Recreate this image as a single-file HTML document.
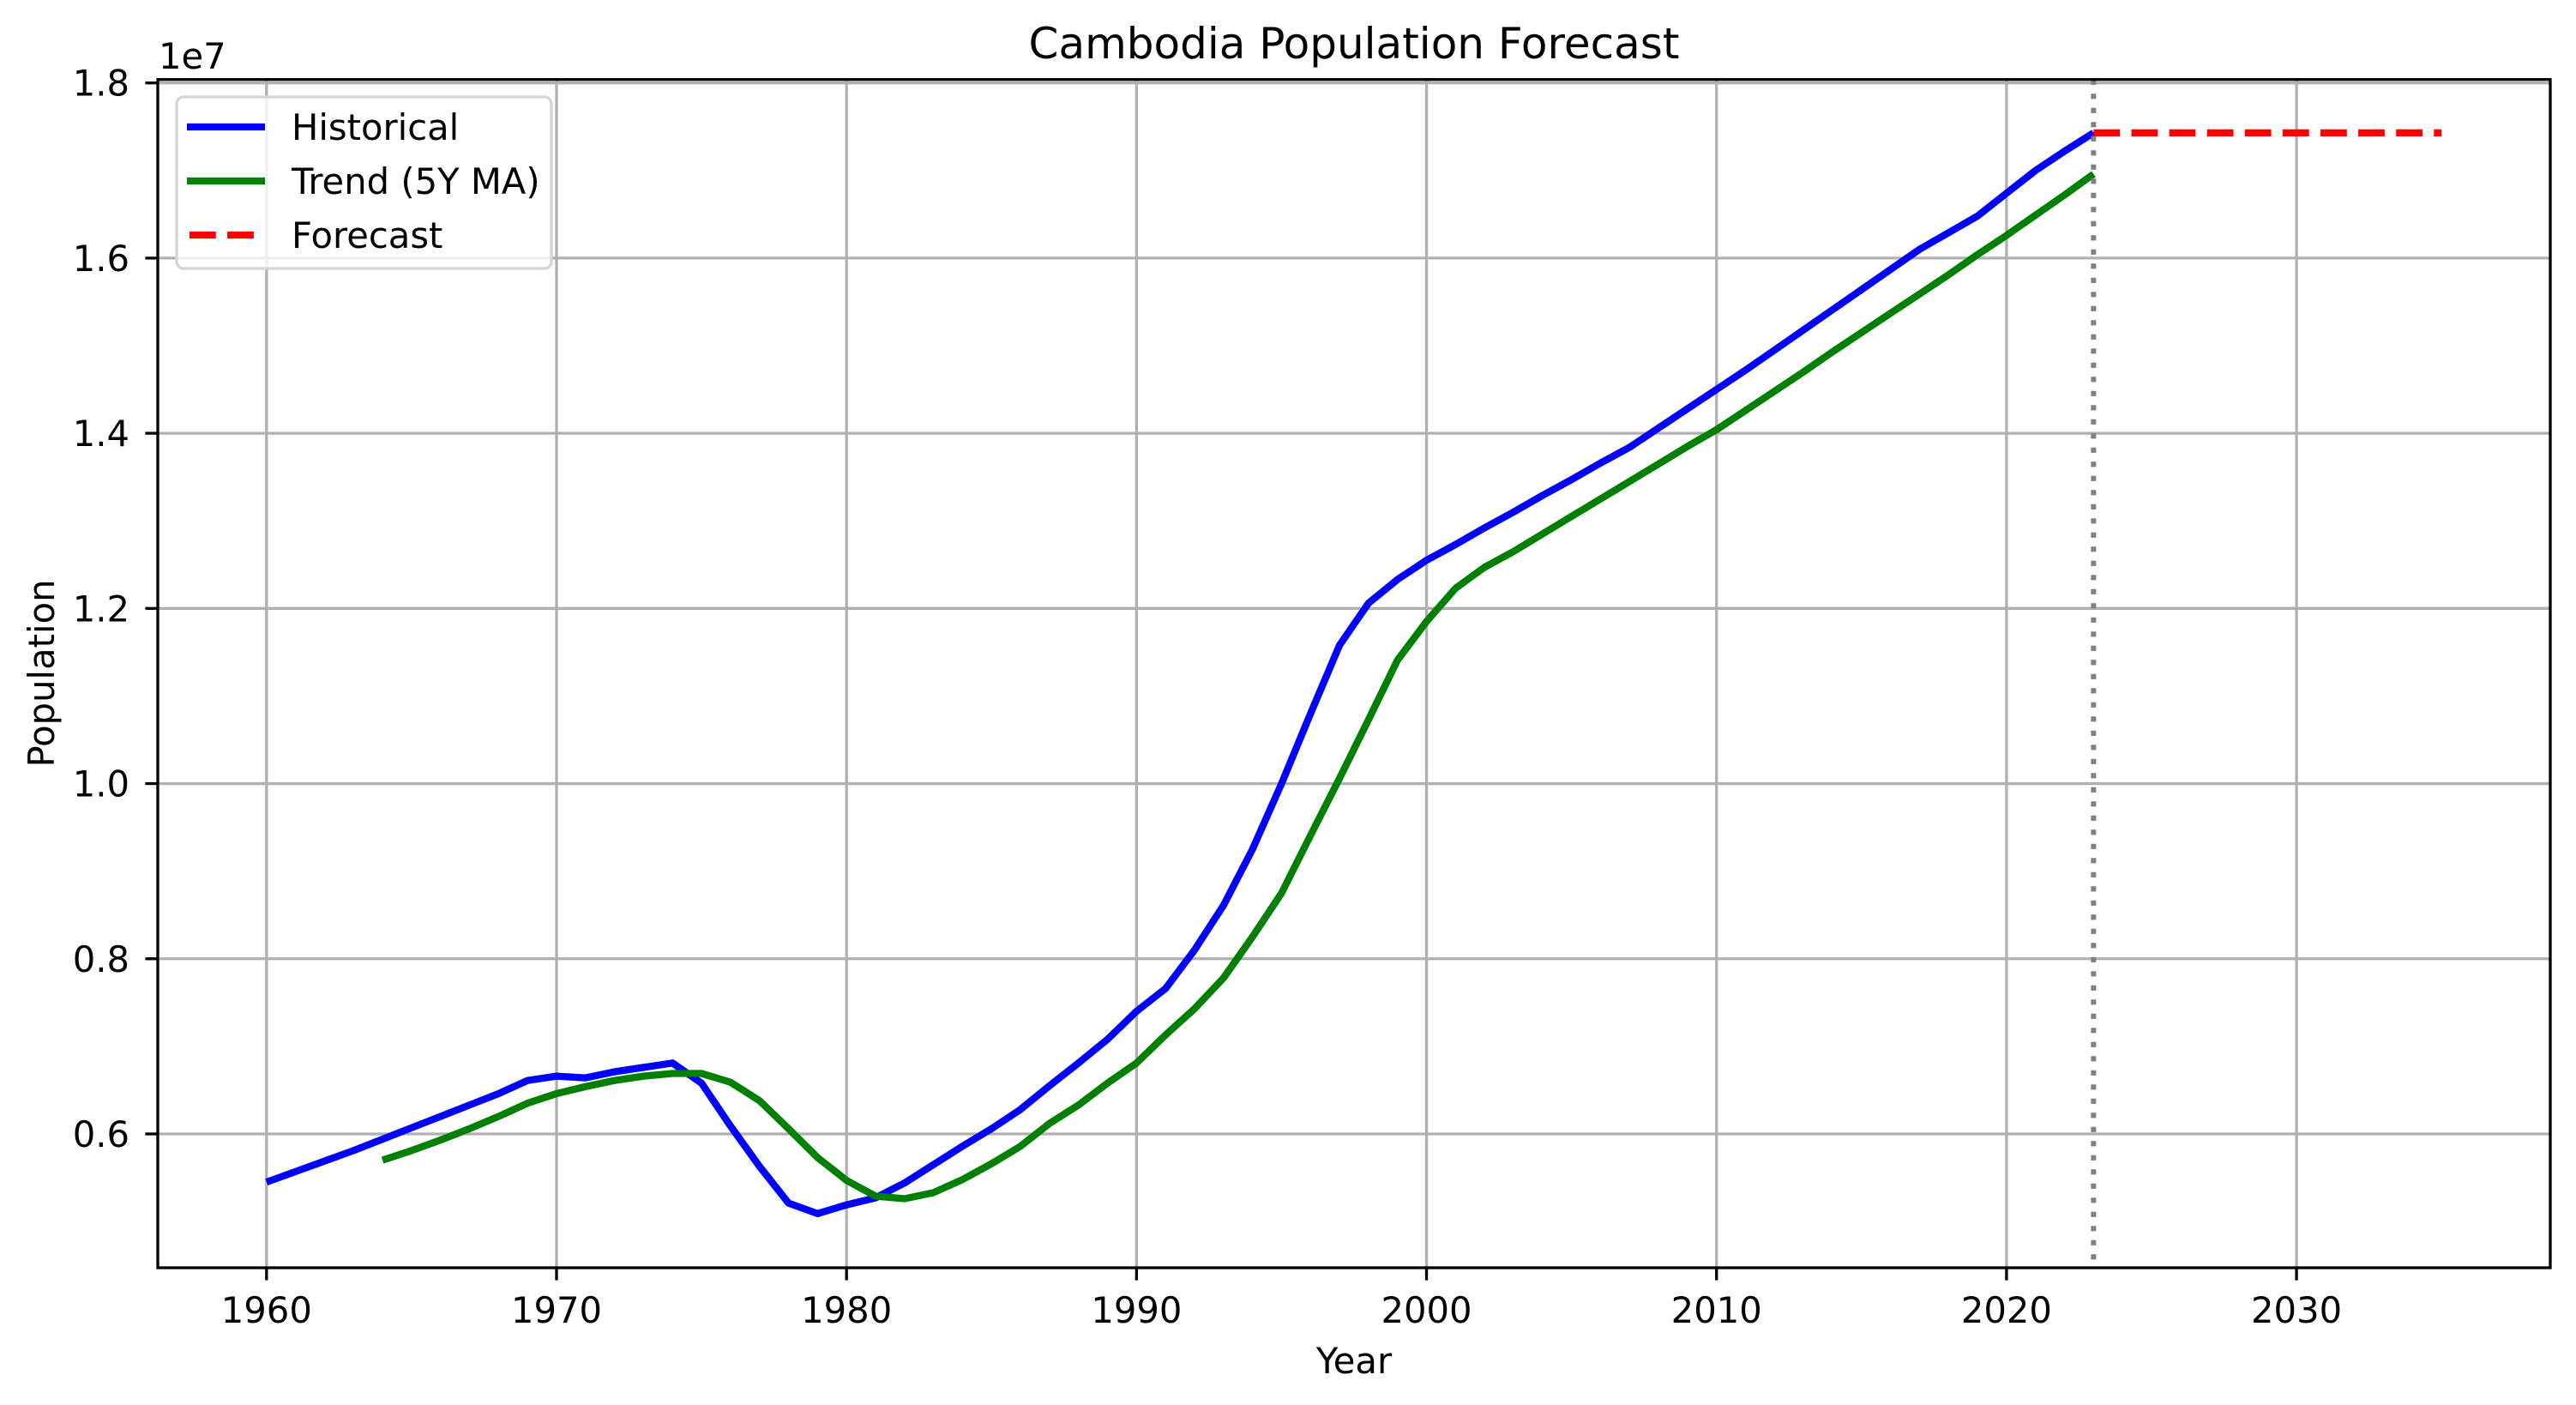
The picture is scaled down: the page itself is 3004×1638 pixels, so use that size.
<!DOCTYPE html>
<html><head><meta charset="utf-8"><style>
html,body{margin:0;padding:0;background:#fff;}
svg{display:block;}
text{font-family:"DejaVu Sans","Liberation Sans",sans-serif;fill:#000;}
</style></head><body>
<svg id="chart" width="3004" height="1638" viewBox="0 0 3004 1638" xmlns="http://www.w3.org/2000/svg">
<rect width="3004" height="1638" fill="#fff"/>
<g id="grid"></g>
<g id="series"></g>
<g id="axes"></g>
<text x="1579" y="68" font-size="50" text-anchor="middle">Cambodia Population Forecast</text>
<text x="1579" y="1601" font-size="41.7" text-anchor="middle">Year</text>
<text transform="translate(63,785) rotate(-90)" font-size="41.7" text-anchor="middle">Population</text>
<text x="185" y="80" font-size="41.7">1e7</text>
<g>
<rect x="206" y="113" width="437" height="200" rx="8" fill="#fff" fill-opacity="0.8" stroke="#d5d5d5" stroke-width="3.3"/>
<line x1="218" y1="148" x2="309" y2="148" stroke="#0000ff" stroke-width="8.3"/>
<text x="340" y="163" font-size="41.7">Historical</text>
<line x1="218" y1="211" x2="309" y2="211" stroke="#008000" stroke-width="8.3"/>
<text x="340" y="226" font-size="41.7">Trend (5Y MA)</text>
<line x1="221" y1="274" x2="309" y2="274" stroke="#ff0000" stroke-width="8.3" stroke-dasharray="30.8,13.3"/>
<text x="340" y="289" font-size="41.7">Forecast</text>
</g>
</svg>
<script>
const histYears = [1960,1961,1962,1963,1964,1965,1966,1967,1968,1969,1970,1971,1972,1973,1974,1975,1976,1977,1978,1979,1980,1981,1982,1983,1984,1985,1986,1987,1988,1989,1990,1991,1992,1993,1994,1995,1996,1997,1998,1999,2000,2001,2002,2003,2004,2005,2006,2007,2008,2009,2010,2011,2012,2013,2014,2015,2016,2017,2018,2019,2020,2021,2022,2023];
const histValues = [5.45,5.57,5.69,5.81,5.94,6.07,6.20,6.33,6.46,6.61,6.66,6.64,6.71,6.76,6.81,6.58,6.09,5.63,5.21,5.09,5.19,5.27,5.44,5.65,5.86,6.06,6.28,6.55,6.81,7.08,7.40,7.66,8.10,8.61,9.25,10.00,10.80,11.58,12.06,12.33,12.55,12.73,12.92,13.10,13.29,13.47,13.66,13.84,14.06,14.28,14.50,14.72,14.95,15.18,15.41,15.64,15.87,16.10,16.29,16.48,16.74,17.00,17.22,17.43];
const trendYears = [1964,1965,1966,1967,1968,1969,1970,1971,1972,1973,1974,1975,1976,1977,1978,1979,1980,1981,1982,1983,1984,1985,1986,1987,1988,1989,1990,1991,1992,1993,1994,1995,1996,1997,1998,1999,2000,2001,2002,2003,2004,2005,2006,2007,2008,2009,2010,2011,2012,2013,2014,2015,2016,2017,2018,2019,2020,2021,2022,2023];
const trendValues = [5.70,5.81,5.93,6.06,6.20,6.35,6.46,6.54,6.61,6.66,6.69,6.69,6.59,6.38,6.06,5.73,5.47,5.29,5.26,5.33,5.48,5.66,5.86,6.12,6.33,6.58,6.81,7.13,7.43,7.78,8.25,8.75,9.41,10.06,10.73,11.41,11.85,12.23,12.47,12.65,12.85,13.05,13.25,13.45,13.65,13.85,14.04,14.26,14.48,14.70,14.93,15.15,15.37,15.59,15.81,16.04,16.26,16.49,16.72,16.96];
const forecastYears = [2023,2024,2025,2026,2027,2028,2029,2030,2031,2032,2033,2034,2035];
const forecastValues = [17.43,17.43,17.43,17.43,17.43,17.43,17.43,17.43,17.43,17.43,17.43,17.43,17.43];
const cutoffYear = [2023];
const xTicks = [1960,1970,1980,1990,2000,2010,2020,2030];
const yTicks = [6,8,10,12,14,16,18];
const yTickLabels = ["0.6","0.8","1.0","1.2","1.4","1.6","1.8"];

const L=184,R=2974,T=92.7,B=1478;
const X0=1956.25,X1=2038.75,Y0=4.472,Y1=18.039;
function sx(v){return L+(v-X0)/(X1-X0)*(R-L);}
function sy(v){return B-(v-Y0)/(Y1-Y0)*(B-T);}
const NS="http://www.w3.org/2000/svg";
function mk(tag,attrs,parent){const e=document.createElementNS(NS,tag);for(const k in attrs)e.setAttribute(k,attrs[k]);parent.appendChild(e);return e;}
const grid=document.getElementById('grid'),axes=document.getElementById('axes'),series=document.getElementById('series');

xTicks.forEach(t=>{
  const g=mk('line',{x1:sx(t),x2:sx(t),y1:T,y2:B,stroke:'#b0b0b0','stroke-width':3.3},grid);
  
  
  const tk=mk('line',{x1:sx(t),x2:sx(t),y1:B,y2:B+14.6,stroke:'#000','stroke-width':3.3},axes);
  
  
  const lb=mk('text',{x:sx(t),y:B+64,'font-size':41.7,'text-anchor':'middle'},axes);
  lb.textContent=t;
  
  
});
yTicks.forEach((t,i)=>{
  const g=mk('line',{x1:L,x2:R,y1:sy(t),y2:sy(t),stroke:'#b0b0b0','stroke-width':3.3},grid);
  
  
  const tk=mk('line',{x1:L-14.6,x2:L,y1:sy(t),y2:sy(t),stroke:'#000','stroke-width':3.3},axes);
  
  
  const lb=mk('text',{x:L-33,y:sy(t)+15,'font-size':41.7,'text-anchor':'end'},axes);
  lb.textContent=yTickLabels[i];
  
  
});
const frame=mk('rect',{x:L,y:T,width:R-L,height:B-T,fill:'none',stroke:'#000','stroke-width':3.3},axes);



function pts(xs,ys){return xs.map((x,i)=>sx(x).toFixed(1)+','+sy(ys[i]).toFixed(1)).join(' ');}
const h=mk('polyline',{points:pts(histYears,histValues),fill:'none',stroke:'#0000ff','stroke-width':8.3,'stroke-linejoin':'round'},series);


const tr=mk('polyline',{points:pts(trendYears,trendValues),fill:'none',stroke:'#008000','stroke-width':8.3,'stroke-linejoin':'round'},series);


const fc=mk('polyline',{points:pts(forecastYears,forecastValues),fill:'none',stroke:'#ff0000','stroke-width':8.3,'stroke-dasharray':'30.8,13.3'},series);


const cv=mk('line',{x1:sx(cutoffYear[0]),x2:sx(cutoffYear[0]),y1:T,y2:B,stroke:'#808080','stroke-width':6,'stroke-dasharray':'6.2,10.3'},series);


</script>
</body></html>
